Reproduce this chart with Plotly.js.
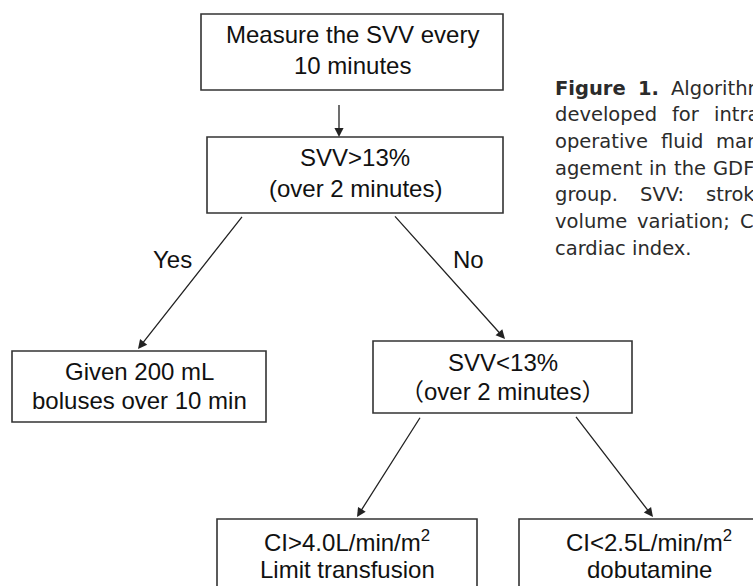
<!DOCTYPE html>
<html>
<head>
<meta charset="utf-8">
<script src="https://cdn.plot.ly/plotly-3.0.1.min.js"></script>
<style>html,body{margin:0;padding:0;background:#fff;}#chart{width:753px;height:586px;}</style>
</head>
<body>
<div id="chart"></div>
<script>
// ---- content ----
const nodeLines = [
  ["Measure the SVV every", "10 minutes"],
  ["SVV>13%", "(over 2 minutes)"],
  ["Given 200 mL", "boluses over 10 min"],
  ["SVV<13%", "（over 2 minutes）"],
  ["CI>4.0L/min/m<sup>2</sup>", "Limit transfusion"],
  ["CI<2.5L/min/m<sup>2</sup>", "dobutamine"]
];
const edgeFrom = [0, 1, 1, 3, 3];
const edgeTo = [1, 2, 3, 4, 5];
const edgeLabels = ["", "Yes", "No", "", ""];
const captionLines = [
  "Figure 1. Algorithm",
  "developed for intra-",
  "operative fluid man-",
  "agement in the GDFT",
  "group. SVV: stroke",
  "volume variation; CI:",
  "cardiac index."
];
const captionBold = "Figure 1.";

// ---- layout geometry (pixel coordinates) ----
const boxes = [
  {x0: 201, x1: 503, y0: 14, y1: 90, ty: [34, 65]},
  {x0: 207, x1: 503, y0: 137, y1: 213, ty: [157, 188]},
  {x0: 12, x1: 266, y0: 351, y1: 422, ty: [371, 400]},
  {x0: 373, x1: 632, y0: 341, y1: 413, ty: [362, 391]},
  {x0: 217, x1: 477, y0: 519, y1: 640, ty: [541, 569]},
  {x0: 519, x1: 779, y0: 519, y1: 640, ty: [541, 569]}
];
const edgeGeom = [
  {sx: 339, sy: 95, ex: 339, ey: 137},
  {sx: 245, sy: 213, ex: 138, ey: 349, lx: 172, ly: 259},
  {sx: 392, sy: 213, ex: 505, ey: 339, lx: 468, ly: 259},
  {sx: 423, sy: 413, ex: 357, ey: 517},
  {sx: 573, sy: 413, ex: 653, ey: 517}
];
const capX = 553, capW = 211, capY0 = 88, capDY = 26.7;
const capFontSize = 19.5;
const capFamily = '"DejaVu Sans"';

const boxFont = {family: 'Liberation Sans, Arial, Noto Sans CJK SC', size: 24, color: '#111'};
const lineColor = '#333';

const shapes = [];
const annotations = [];

boxes.forEach((b, i) => {
  shapes.push({type: 'rect', xref: 'x', yref: 'y', x0: b.x0, x1: b.x1, y0: b.y0, y1: b.y1,
    line: {color: lineColor, width: 1.6}, fillcolor: 'rgba(0,0,0,0)'});
  const cx = (b.x0 + b.x1) / 2;
  nodeLines[i].forEach((t, k) => {
    annotations.push({x: cx, y: b.ty[k], xref: 'x', yref: 'y', text: t, showarrow: false,
      xanchor: 'center', yanchor: 'middle', font: boxFont});
  });
});

edgeFrom.forEach((f, i) => {
  const g = edgeGeom[i];
  annotations.push({x: g.ex, y: g.ey, ax: g.sx, ay: g.sy, xref: 'x', yref: 'y', axref: 'x', ayref: 'y',
    text: ' ', showarrow: true, arrowhead: 2, arrowsize: 1.4, arrowwidth: 1.3, arrowcolor: '#222', standoff: 0, startstandoff: 0});
  if (edgeLabels[i]) {
    annotations.push({x: g.lx, y: g.ly, xref: 'x', yref: 'y', text: edgeLabels[i], showarrow: false,
      xanchor: 'center', yanchor: 'middle', font: boxFont});
  }
});

// caption, justified by measuring words
const ctx = document.createElement('canvas').getContext('2d');
function measure(w, bold) {
  ctx.font = (bold ? 'bold ' : '') + capFontSize + 'px ' + capFamily;
  return ctx.measureText(w).width;
}
captionLines.forEach((line, li) => {
  const y = capY0 + li * capDY;
  let words = [];
  if (li === 0) {
    words = [{t: 'Figure', b: true}, {t: '1.', b: true}];
    line.slice(captionBold.length).trim().split(' ').forEach(w => words.push({t: w, b: false}));
  } else {
    line.split(' ').forEach(w => words.push({t: w, b: false}));
  }
  const widths = words.map(w => measure(w.t, w.b));
  const total = widths.reduce((a, c) => a + c, 0);
  const last = li === captionLines.length - 1;
  const gap = (last || words.length < 2) ? measure(' ', false) : (capW - total) / (words.length - 1);
  let x = capX;
  words.forEach((w, k) => {
    annotations.push({x: x, y: y, xref: 'x', yref: 'y', text: w.b ? '<b>' + w.t + '</b>' : w.t,
      showarrow: false, xanchor: 'left', yanchor: 'middle',
      font: {family: capFamily, size: capFontSize, color: '#2b2b2b'}});
    x += widths[k] + gap;
  });
});

const layout = {
  width: 753, height: 586,
  margin: {l: 0, r: 0, t: 0, b: 0},
  paper_bgcolor: '#fff', plot_bgcolor: '#fff',
  xaxis: {range: [0, 753], visible: false, fixedrange: true},
  yaxis: {range: [586, 0], visible: false, fixedrange: true},
  shapes: shapes,
  annotations: annotations,
  showlegend: false
};
Plotly.newPlot('chart', [], layout, {displayModeBar: false, staticPlot: true});
</script>
</body>
</html>
